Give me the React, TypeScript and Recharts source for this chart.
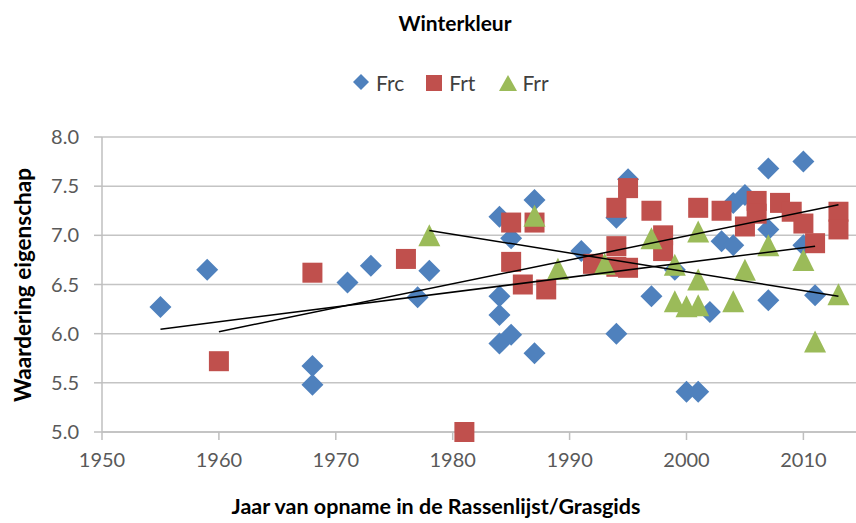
import { ScatterChart, Scatter, XAxis, YAxis, CartesianGrid } from "recharts";

// Frc (diamonds)
const frcYears = [1955, 1959, 1968, 1968, 1971, 1973, 1977, 1978, 1984, 1984, 1984, 1984, 1985, 1985, 1987, 1987, 1991, 1994, 1994, 1995, 1997, 1999, 2000, 2001, 2002, 2003, 2004, 2004, 2005, 2007, 2007, 2007, 2010, 2010, 2011];
const frcValues = [6.27, 6.65, 5.67, 5.48, 6.52, 6.69, 6.37, 6.64, 7.19, 6.38, 6.19, 5.9, 5.99, 6.97, 7.36, 5.8, 6.84, 7.18, 6.0, 7.57, 6.38, 6.65, 5.41, 5.41, 6.22, 6.94, 6.9, 7.33, 7.41, 7.68, 7.06, 6.34, 7.75, 6.9, 6.39];

// Frt (squares)
const frtYears = [1960, 1968, 1976, 1981, 1985, 1985, 1986, 1987, 1988, 1992, 1994, 1994, 1994, 1995, 1995, 1997, 1998, 1998, 2001, 2003, 2005, 2006, 2006, 2008, 2009, 2010, 2011, 2013, 2013];
const frtValues = [5.72, 6.62, 6.76, 5.0, 7.13, 6.73, 6.5, 7.13, 6.45, 6.71, 7.28, 6.89, 6.68, 7.48, 6.67, 7.25, 7.0, 6.84, 7.28, 7.25, 7.09, 7.35, 7.22, 7.33, 7.24, 7.12, 6.92, 7.24, 7.06];

// Frr (triangles)
const frrYears = [1978, 1987, 1989, 1993, 1997, 1999, 1999, 2000, 2001, 2001, 2001, 2004, 2005, 2007, 2010, 2011, 2013];
const frrValues = [7.0, 7.2, 6.66, 6.71, 6.97, 6.7, 6.33, 6.28, 6.29, 6.55, 7.04, 6.33, 6.65, 6.9, 6.75, 5.92, 6.4];

// linear trend lines, end points
const frcTrend = [[1955, 6.045], [2011, 6.89]];
const frtTrend = [[1960, 6.02], [2013, 7.31]];
const frrTrend = [[1978, 7.05], [2013, 6.38]];

const yTicks = [5, 5.5, 6, 6.5, 7, 7.5, 8];
const xTicks = [1950, 1960, 1970, 1980, 1990, 2000, 2010];

const toPoints = (xs: number[], ys: number[]) => xs.map((x, i) => ({ x, y: ys[i] }));
const trendPoints = (t: number[][]) => t.map(([x, y]) => ({ x, y }));

const BLUE = "#4F81BD";
const RED = "#C0504D";
const GREEN = "#9BBB59";
const FONT = "Lato, 'Open Sans', sans-serif";

const Diamond = (props: any) => {
  const { cx, cy } = props;
  const r = 11;
  return <polygon points={`${cx},${cy - r} ${cx + r},${cy} ${cx},${cy + r} ${cx - r},${cy}`} fill={BLUE} />;
};

const Square = (props: any) => {
  const { cx, cy } = props;
  const s = 20;
  return <rect x={cx - s / 2} y={cy - s / 2} width={s} height={s} fill={RED} />;
};

const Triangle = (props: any) => {
  const { cx, cy } = props;
  const h = 11;
  return <polygon points={`${cx},${cy - h} ${cx + h},${cy + h} ${cx - h},${cy + h}`} fill={GREEN} />;
};

const NoMark = () => <g />;

export default function App() {
  return (
    <div style={{ position: "absolute", left: 0, top: 0, width: 856, height: 523, background: "#fff", fontFamily: FONT }}>
      <div style={{ position: "absolute", top: 10, left: 0, width: 910, textAlign: "center", fontSize: 21, fontWeight: 700, color: "#000" }}>
        Winterkleur
      </div>

      <div style={{ position: "absolute", top: 70, left: 352, display: "flex", alignItems: "center", fontSize: 21, color: "#404040" }}>
        <svg width={20} height={20}><polygon points="9,1 17,9 9,17 1,9" fill={BLUE} /></svg>
        <span style={{ marginLeft: 4, marginRight: 22 }}>Frc</span>
        <svg width={18} height={18}><rect x={0} y={1} width={16} height={16} fill={RED} /></svg>
        <span style={{ marginLeft: 5, marginRight: 24 }}>Frt</span>
        <svg width={20} height={18}><polygon points="9,1 18,17 0,17" fill={GREEN} /></svg>
        <span style={{ marginLeft: 3 }}>Frr</span>
      </div>

      <ScatterChart width={856} height={523} margin={{ top: 137, right: 0, bottom: 61, left: 0 }}>
        <CartesianGrid vertical={false} stroke="#c4c4c4" strokeWidth={1.5} />
        <XAxis
          type="number"
          dataKey="x"
          domain={[1950, 2014.5]}
          ticks={xTicks}
          allowDataOverflow
          height={30}
          tickSize={8}
          tickMargin={13}
          stroke="#bfbfbf"
          strokeWidth={1.5}
          tick={{ fill: "#595959", fontSize: 20, fontFamily: FONT }}
        />
        <YAxis
          type="number"
          dataKey="y"
          domain={[5, 8]}
          ticks={yTicks}
          width={102}
          tickSize={8}
          tickMargin={15}
          stroke="#bfbfbf"
          strokeWidth={1.5}
          tickFormatter={(v: number) => v.toFixed(1)}
          tick={{ fill: "#595959", fontSize: 20, fontFamily: FONT }}
        />
        <Scatter name="Frc" data={toPoints(frcYears, frcValues)} shape={Diamond} isAnimationActive={false} />
        <Scatter name="Frt" data={toPoints(frtYears, frtValues)} shape={Square} isAnimationActive={false} />
        <Scatter name="Frr" data={toPoints(frrYears, frrValues)} shape={Triangle} isAnimationActive={false} />
        <Scatter data={trendPoints(frcTrend)} line={{ stroke: "#000", strokeWidth: 1.5 }} shape={NoMark} legendType="none" isAnimationActive={false} />
        <Scatter data={trendPoints(frtTrend)} line={{ stroke: "#000", strokeWidth: 1.5 }} shape={NoMark} legendType="none" isAnimationActive={false} />
        <Scatter data={trendPoints(frrTrend)} line={{ stroke: "#000", strokeWidth: 1.5 }} shape={NoMark} legendType="none" isAnimationActive={false} />
      </ScatterChart>

      <div style={{ position: "absolute", top: 493, left: 0, width: 872, textAlign: "center", fontSize: 21.5, fontWeight: 700, color: "#000" }}>
        Jaar van opname in de Rassenlijst/Grasgids
      </div>

      <div
        style={{
          position: "absolute",
          left: 22,
          top: 285,
          transform: "translate(-50%, -50%) rotate(-90deg)",
          whiteSpace: "nowrap",
          fontSize: 22.5,
          fontWeight: 700,
          color: "#000",
        }}
      >
        Waardering eigenschap
      </div>
    </div>
  );
}
